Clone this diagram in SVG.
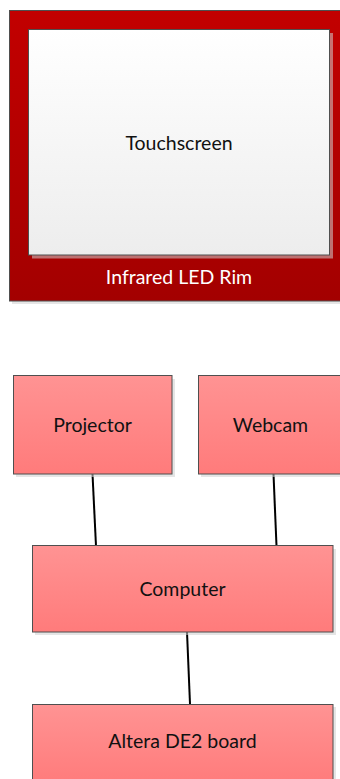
<svg xmlns="http://www.w3.org/2000/svg" width="340" height="779" viewBox="0 0 340 779">
  <defs>
    <linearGradient id="rimFill" x1="0" y1="0" x2="0" y2="1">
      <stop offset="0" stop-color="#C20000"/>
      <stop offset="1" stop-color="#A30000"/>
    </linearGradient>
    <linearGradient id="screenFill" x1="0" y1="0" x2="0" y2="1">
      <stop offset="0" stop-color="#FFFFFF"/>
      <stop offset="1" stop-color="#EDEDED"/>
    </linearGradient>
    <linearGradient id="boxFill" x1="0" y1="0" x2="0" y2="1">
      <stop offset="0" stop-color="#FF9393"/>
      <stop offset="1" stop-color="#FF7B7B"/>
    </linearGradient>
  </defs>
  <style>
    .shadow { fill: #CFCFCF; opacity: 0.55; }
    .frame { stroke: #4F4F4F; stroke-width: 1; }
    .box { fill: url(#boxFill); }
    .label { font-family: Lato, "Open Sans", "Liberation Sans", sans-serif; font-size: 19.5px; fill: #111111; text-anchor: middle; }
    .label-light { fill: #FFFFFF; }
    .link { stroke: #000000; stroke-width: 2; fill: none; }
  </style>

  <rect width="340" height="779" fill="#FFFFFF"/>

  <!-- Infrared rim around the touch surface -->
  <g id="rim">
    <rect class="shadow" x="12" y="13" width="340" height="291"/>
    <rect class="frame" x="9.5" y="10.5" width="340" height="290.5" fill="url(#rimFill)"/>
    <text class="label label-light" x="179" y="284">Infrared LED Rim</text>
  </g>

  <g id="touchscreen">
    <rect class="shadow" x="32" y="33" width="301" height="225.5"/>
    <rect class="frame" x="28.5" y="29.5" width="301" height="225.5" fill="url(#screenFill)"/>
    <text class="label" x="179" y="149.5">Touchscreen</text>
  </g>

  <!-- Connections between the devices -->
  <g id="connectors">
    <line class="link" x1="92.5" y1="474" x2="96" y2="546"/>
    <line class="link" x1="273.5" y1="474" x2="276.5" y2="546"/>
    <line class="link" x1="187" y1="632" x2="190" y2="704"/>
  </g>

  <g id="projector">
    <rect class="shadow" x="16" y="379" width="159" height="98"/>
    <rect class="frame box" x="13.5" y="375.5" width="158.5" height="98.5"/>
    <text class="label" x="92.5" y="432">Projector</text>
  </g>

  <g id="webcam">
    <rect class="shadow" x="201" y="379" width="145" height="98"/>
    <rect class="frame box" x="198.5" y="375.5" width="145" height="98.5"/>
    <text class="label" x="270.5" y="432">Webcam</text>
  </g>

  <g id="computer">
    <rect class="shadow" x="35" y="549" width="301" height="86"/>
    <rect class="frame box" x="32.5" y="545.5" width="300.5" height="86.5"/>
    <text class="label" x="182.5" y="596">Computer</text>
  </g>

  <g id="altera-de2">
    <rect class="shadow" x="35" y="707" width="301" height="80"/>
    <rect class="frame box" x="32.5" y="704.5" width="300.5" height="80"/>
    <text class="label" x="182.5" y="747.5">Altera DE2 board</text>
  </g>
</svg>
